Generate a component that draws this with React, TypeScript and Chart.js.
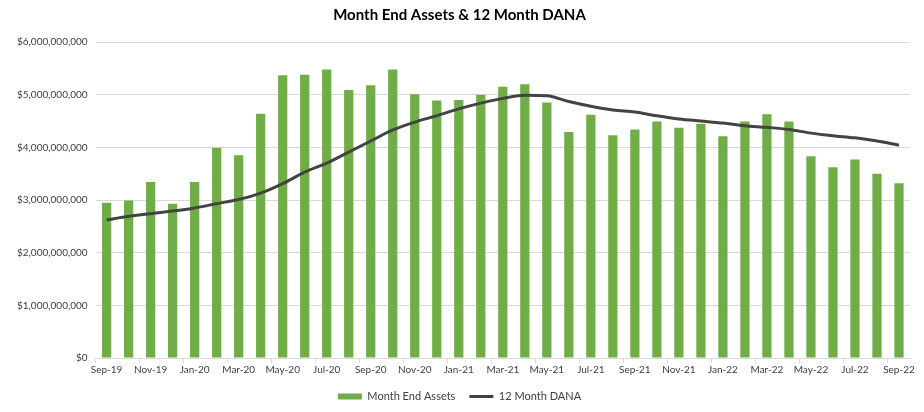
import React, { useEffect, useRef } from "react";
import { Chart, registerables } from "chart.js";

Chart.register(...registerables);

const months: string[] = [
  "Sep-19", "Oct-19", "Nov-19", "Dec-19", "Jan-20", "Feb-20", "Mar-20", "Apr-20", "May-20", "Jun-20",
  "Jul-20", "Aug-20", "Sep-20", "Oct-20", "Nov-20", "Dec-20", "Jan-21", "Feb-21", "Mar-21", "Apr-21",
  "May-21", "Jun-21", "Jul-21", "Aug-21", "Sep-21", "Oct-21", "Nov-21", "Dec-21", "Jan-22", "Feb-22",
  "Mar-22", "Apr-22", "May-22", "Jun-22", "Jul-22", "Aug-22", "Sep-22",
];

const monthEndAssets: number[] = [
  2.95, 2.99, 3.34, 2.93, 3.34, 3.99, 3.85, 4.64, 5.37, 5.38,
  5.48, 5.09, 5.18, 5.48, 5.01, 4.89, 4.9, 5.0, 5.15, 5.2,
  4.85, 4.29, 4.62, 4.23, 4.34, 4.49, 4.37, 4.45, 4.21, 4.49,
  4.63, 4.49, 3.83, 3.62, 3.77, 3.5, 3.32,
].map((v) => v * 1e9);

const dana12Month: number[] = [
  2.62, 2.69, 2.74, 2.79, 2.85, 2.93, 3.01, 3.13, 3.31, 3.53,
  3.7, 3.91, 4.12, 4.33, 4.48, 4.6, 4.73, 4.84, 4.93, 4.99,
  4.98, 4.87, 4.78, 4.71, 4.67, 4.6, 4.54, 4.5, 4.46, 4.41,
  4.38, 4.34, 4.27, 4.22, 4.18, 4.12, 4.04,
].map((v) => v * 1e9);

const yTicks: number[] = [0, 1e9, 2e9, 3e9, 4e9, 5e9, 6e9];

const FONT = "Lato, 'DejaVu Sans', sans-serif";

export default function App() {
  const ref = useRef<HTMLCanvasElement | null>(null);
  useEffect(() => {
    document.body.style.margin = "0";
    const ctx = ref.current!.getContext("2d")!;
    const chart = new Chart(ctx, {
      type: "bar",
      data: {
        labels: months,
        datasets: [
          {
            type: "line",
            label: "12 Month DANA",
            data: dana12Month,
            borderColor: "#434343",
            backgroundColor: "#434343",
            borderWidth: 3,
            pointRadius: 0,
            cubicInterpolationMode: "monotone",
            pointStyle: "line",
            order: 0,
          } as any,
          {
            type: "bar",
            label: "Month End Assets",
            data: monthEndAssets,
            backgroundColor: "#70ad47",
            borderWidth: 0,
            barPercentage: 0.42,
            categoryPercentage: 1,
            pointStyle: "rect",
            order: 1,
          } as any,
        ],
      },
      options: {
        animation: false,
        responsive: false,
        maintainAspectRatio: false,
        layout: { padding: { left: 9, right: 14, top: 4, bottom: 0 } },
        plugins: {
          title: {
            display: true,
            text: "Month End Assets & 12 Month DANA",
            font: { family: FONT, size: 15, weight: "bold" },
            color: "#000",
            padding: { top: 2, bottom: 18 },
          },
          legend: {
            position: "bottom",
            reverse: true,
            labels: {
              usePointStyle: true,
              pointStyleWidth: 24,
              boxWidth: 24,
              boxHeight: 6,
              font: { family: FONT, size: 11 },
              color: "#404040",
              padding: 14,
            },
          },
          tooltip: { enabled: false },
        },
        scales: {
          x: {
            grid: {
              offset: true,
              drawOnChartArea: false,
              tickLength: 5,
              color: (c: any) => (c.index % 2 === 0 ? "#d9d9d9" : "transparent"),
            },
            border: { color: "#d9d9d9" },
            ticks: {
              autoSkip: false,
              maxRotation: 0,
              padding: 1,
              font: { family: FONT, size: 10 },
              color: "#404040",
              callback: (_v: any, i: number) => (i % 2 === 0 ? months[i] : ""),
            },
          },
          y: {
            min: 0,
            max: 6e9,
            afterBuildTicks: (axis: any) => {
              axis.ticks = yTicks.map((v) => ({ value: v }));
            },
            grid: { color: "#d9d9d9", drawTicks: false },
            border: { display: false },
            ticks: {
              padding: 8,
              font: { family: FONT, size: 10 },
              color: "#404040",
              callback: (v: any) => "$" + Number(v).toLocaleString("en-US"),
            },
          },
        },
      } as any,
    });
    return () => chart.destroy();
  }, []);
  return (
    <div style={{ width: 924, height: 412, background: "#fff" }}>
      <canvas ref={ref} width={924} height={412} style={{ width: 924, height: 412 }} />
    </div>
  );
}
